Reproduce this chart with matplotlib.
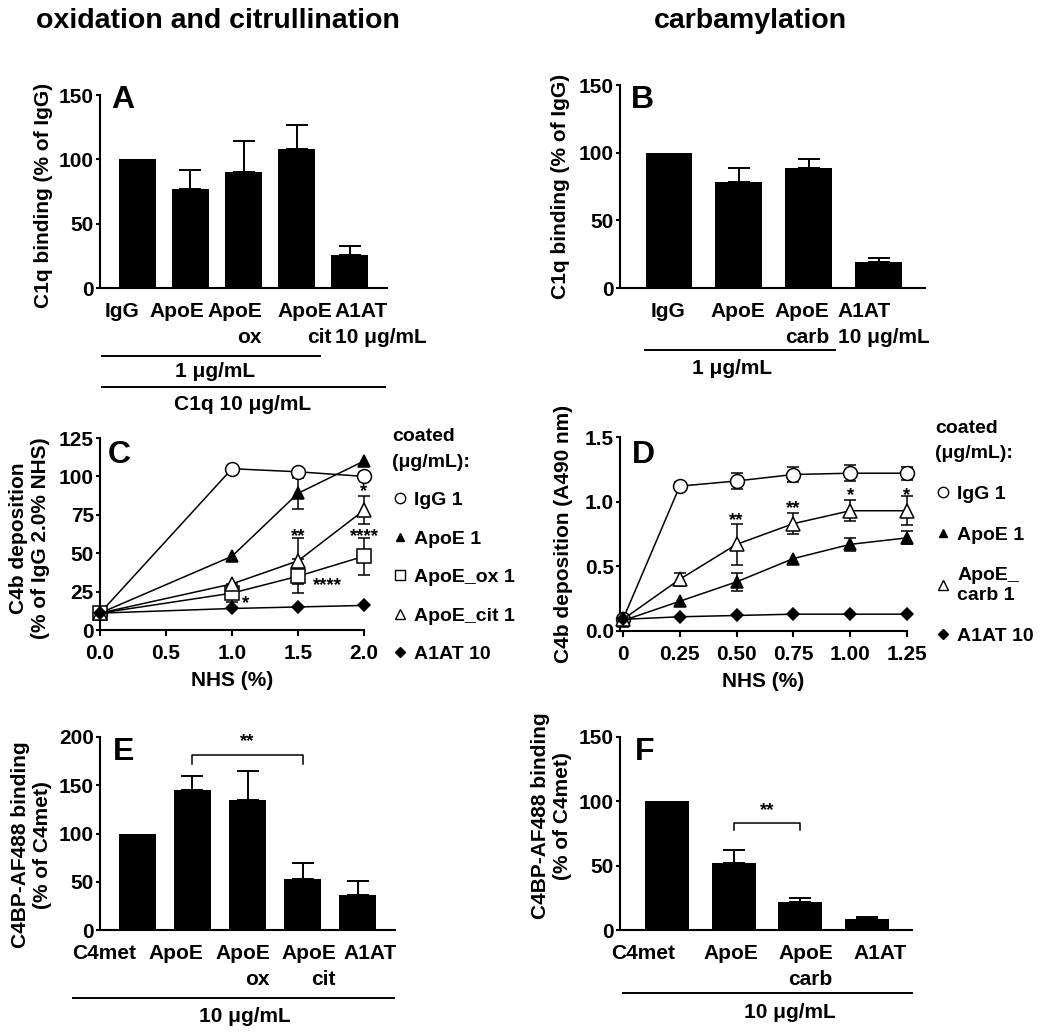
import numpy as np
import matplotlib
matplotlib.use("Agg")
import matplotlib.pyplot as plt
from matplotlib.lines import Line2D
from matplotlib.transforms import ScaledTranslation

plt.rcParams['font.family'] = ['Liberation Sans', 'DejaVu Sans']
plt.rcParams['font.weight'] = 'bold'
plt.rcParams['axes.labelweight'] = 'bold'

W, H = 1050, 1033

# ---- data ----
A_labels = ['IgG', 'ApoE', 'ApoE\nox', 'ApoE\ncit', 'A1AT\n10 μg/mL']
A_vals = [100, 77, 90, 108, 26]
A_err = [0, 15, 24, 19, 7]

B_labels = ['IgG', 'ApoE', 'ApoE\ncarb', 'A1AT\n10 μg/mL']
B_vals = [100, 78, 89, 19]
B_err = [0, 11, 6, 3]

C_x = [0, 1.0, 1.5, 2.0]
C_igg = [11, 105, 103, 100]
C_igg_err = [0, 0, 0, 0]
C_apoe = [11, 48, 89, 110]
C_apoe_err = [0, 0, 10, 0]
C_ox = [11, 24, 35, 48]
C_ox_err = [0, 6, 11, 12]
C_cit = [11, 30, 45, 78]
C_cit_err = [0, 0, 15, 9]
C_a1at = [11, 14, 15, 16]
C_a1at_err = [0, 0, 0, 0]

D_x = [0, 0.25, 0.5, 0.75, 1.0, 1.25]
D_igg = [0.09, 1.12, 1.16, 1.21, 1.22, 1.22]
D_igg_err = [0, 0.03, 0.06, 0.06, 0.06, 0.05]
D_apoe = [0.08, 0.23, 0.38, 0.56, 0.67, 0.72]
D_apoe_err = [0, 0, 0.07, 0, 0.05, 0.05]
D_carb = [0.09, 0.40, 0.67, 0.83, 0.93, 0.93]
D_carb_err = [0, 0.05, 0.16, 0.08, 0.08, 0.11]
D_a1at = [0.09, 0.11, 0.12, 0.13, 0.13, 0.13]
D_a1at_err = [0, 0, 0, 0, 0, 0]

E_labels = ['C4met', 'ApoE', 'ApoE\nox', 'ApoE\ncit', 'A1AT']
E_vals = [100, 145, 135, 53, 36]
E_err = [0, 15, 30, 16, 15]

F_labels = ['C4met', 'ApoE', 'ApoE\ncarb', 'A1AT']
F_vals = [100, 52, 22, 8.5]
F_err = [0, 10, 2.5, 1.5]

# significance marks: (x, y, text)
C_stars = [(1.1, 17, '*'), (1.5, 61, '**'), (1.72, 29, '****'),
           (2.0, 90, '*'), (2.0, 61, '****')]
D_stars = [(0.5, 0.85, '**'), (0.75, 0.95, '**'), (1.0, 1.05, '*'), (1.25, 1.05, '*')]

fig = plt.figure(figsize=(W / 100, H / 100), dpi=100)


def add_ax(x0, y0, x1, y1):
    return fig.add_axes([x0 / W, 1 - y1 / H, (x1 - x0) / W, (y1 - y0) / H])


def style(ax):
    for s in ['top', 'right']:
        ax.spines[s].set_visible(False)
    for s in ['left', 'bottom']:
        ax.spines[s].set_linewidth(1.5)
    ax.tick_params(axis='y', length=3, width=1.5, pad=1.5, labelsize=15)
    ax.tick_params(axis='x', length=4, width=1.5, pad=6, labelsize=15)


def hline(x0, x1, y):
    fig.add_artist(Line2D([x0 / W, x1 / W], [1 - y / H, 1 - y / H],
                          transform=fig.transFigure, color='k', lw=1.4))


def ftext(x, y, s, size=15):
    fig.text(x / W, 1 - y / H, s, ha='center', va='center', fontsize=size, fontweight='bold')


def bar_panel(ax, labels, vals, errs, width, ylim, yticks, offsets, letter, letter_pos):
    x = np.arange(len(vals))
    ax.bar(x, vals, width=width, color='k')
    xe = [i for i in x if errs[i] > 0]
    ax.errorbar(xe, [vals[i] for i in xe], yerr=[[0] * len(xe), [errs[i] for i in xe]],
                fmt='none', ecolor='k', elinewidth=1.4, capsize=8, capthick=1.4)
    ax.set_ylim(*ylim)
    ax.set_yticks(yticks)
    ax.set_xticks(x)
    ax.set_xticklabels(labels, va='top')
    ax.tick_params(axis='x', length=0, pad=10)
    for lab, (dx, ha) in zip(ax.get_xticklabels(), offsets):
        lab.set_ha(ha)
        lab.set_linespacing(1.45)
        lab.set_multialignment('left' if ha == 'left' else 'right')
        lab.set_transform(lab.get_transform() + ScaledTranslation(dx * 0.72 / 72, 0, fig.dpi_scale_trans))
    ax.text(letter_pos[0], letter_pos[1], letter, transform=ax.transAxes,
            fontsize=23, fontweight='bold', va='top', ha='left')


# ---- titles ----
ftext(218, 21, 'oxidation and citrullination', size=20.5)
ftext(750, 21, 'carbamylation', size=20.5)

# ---- A ----
axA = add_ax(100, 95, 387, 288)
style(axA)
axA.set_xlim(-0.7, 4.7)
bar_panel(axA, A_labels, A_vals, A_err, 0.7, (0, 150), [0, 50, 100, 150],
          [(-15, 'center'), (-13, 'center'), (-9, 'center'), (8, 'center'), (-15, 'left')],
          'A', (0.04, 1.05))
axA.set_ylabel('C1q binding (% of IgG)', fontsize=15)
axA.yaxis.set_label_coords(-0.164, 0.48)
hline(102, 320, 356)
ftext(215, 371, '1 μg/mL')
hline(102, 385, 387)
ftext(243, 404, 'C1q 10 μg/mL')

# ---- B ----
axB = add_ax(620, 85, 925, 288)
style(axB)
axB.set_xlim(-0.7, 3.66)
bar_panel(axB, B_labels, B_vals, B_err, 0.67, (0, 150), [0, 50, 100, 150],
          [(-1, 'center'), (-1, 'center'), (-7, 'center'), (-41, 'left')],
          'B', (0.035, 1.0))
axB.set_ylabel('C1q binding (% of IgG)', fontsize=15)
axB.yaxis.set_label_coords(-0.164, 0.5)
hline(645, 835, 350)
ftext(732, 368, '1 μg/mL')


# ---- line panels ----
def series(ax, x, y, err, marker, mfc, ms):
    xe = [x[i] for i in range(len(x)) if err[i] > 0]
    ye = [y[i] for i in range(len(x)) if err[i] > 0]
    ee = [e for e in err if e > 0]
    if ee:
        ax.errorbar(xe, ye, yerr=ee, fmt='none', ecolor='k', elinewidth=1.1,
                    capsize=4.5, capthick=1.1, zorder=2, clip_on=False)
    ax.plot(x, y, color='k', lw=1.1, marker=marker, ms=ms, mfc=mfc, mec='k',
            mew=1.1, zorder=3, clip_on=False)
    return Line2D([], [], ls='none', marker=marker, ms=ms * 0.75, mfc=mfc, mec='k', mew=1.0)


def legend(ax, handles, labels, anchor, spacing):
    leg = ax.legend(handles, labels, loc='upper left', bbox_to_anchor=anchor,
                    frameon=False, title='coated\n(μg/mL):', alignment='left',
                    handlelength=0.8, handletextpad=0.35, labelspacing=spacing,
                    borderaxespad=0, borderpad=0,
                    prop=dict(size=14, weight='bold'),
                    title_fontproperties=dict(size=14, weight='bold'))
    leg.get_title().set_linespacing(1.65)
    for t in leg.get_texts():
        t.set_linespacing(1.2)


axC = add_ax(100, 438, 364, 630)
style(axC)
hC = [series(axC, C_x, C_igg, C_igg_err, 'o', 'white', 10),
      series(axC, C_x, C_apoe, C_apoe_err, '^', 'black', 8),
      series(axC, C_x, C_ox, C_ox_err, 's', 'white', 10),
      series(axC, C_x, C_cit, C_cit_err, '^', 'white', 10),
      series(axC, C_x, C_a1at, C_a1at_err, 'D', 'black', 6.5)]
axC.set_xlim(0, 2.0)
axC.set_ylim(0, 125)
axC.set_xticks([0, 0.5, 1.0, 1.5, 2.0])
axC.set_xticklabels(['0.0', '0.5', '1.0', '1.5', '2.0'])
axC.set_yticks([0, 25, 50, 75, 100, 125])
for x, y, s in C_stars:
    axC.text(x, y, s, ha='center', va='center', fontsize=13.5, fontweight='bold')
axC.set_xlabel('NHS (%)', fontsize=15, labelpad=6)
axC.set_ylabel('C4b deposition\n(% of IgG 2.0% NHS)', fontsize=15, linespacing=1.2)
axC.yaxis.set_label_coords(-0.19, 0.48)
axC.text(0.03, 0.99, 'C', transform=axC.transAxes, fontsize=23, fontweight='bold', va='top')
legend(axC, hC, ['IgG 1', 'ApoE 1', 'ApoE_ox 1', 'ApoE_cit 1', 'A1AT 10'], (1.106, 1.05), 1.07)

axD = add_ax(620, 437, 907, 631)
style(axD)
hD = [series(axD, D_x, D_igg, D_igg_err, 'o', 'white', 10),
      series(axD, D_x, D_apoe, D_apoe_err, '^', 'black', 8),
      series(axD, D_x, D_carb, D_carb_err, '^', 'white', 10),
      series(axD, D_x, D_a1at, D_a1at_err, 'D', 'black', 6.5)]
axD.set_xlim(-0.013, 1.25)
axD.set_ylim(0, 1.5)
axD.set_xticks(D_x)
axD.set_xticklabels(['0', '0.25', '0.50', '0.75', '1.00', '1.25'])
axD.set_yticks([0, 0.5, 1.0, 1.5])
axD.set_yticklabels(['0.0', '0.5', '1.0', '1.5'])
for x, y, s in D_stars:
    axD.text(x, y, s, ha='center', va='center', fontsize=13.5, fontweight='bold')
axD.set_xlabel('NHS (%)', fontsize=15, labelpad=6)
axD.set_ylabel('C4b deposition (A490 nm)', fontsize=15)
axD.yaxis.set_label_coords(-0.164, 0.5)
axD.text(0.04, 0.985, 'D', transform=axD.transAxes, fontsize=23, fontweight='bold', va='top')
legend(axD, hD, ['IgG 1', 'ApoE 1', 'ApoE_\ncarb 1', 'A1AT 10'], (1.097, 1.09), 1.2)

# ---- E ----
axE = add_ax(100, 737, 395, 930)
style(axE)
axE.set_xlim(-0.67, 4.67)
bar_panel(axE, E_labels, E_vals, E_err, 0.67, (0, 200), [0, 50, 100, 150, 200],
          [(-33, 'center'), (-16, 'center'), (-5, 'center'), (6, 'center'), (12, 'center')],
          'E', (0.045, 1.0))
axE.set_ylabel('C4BP-AF488 binding\n(% of C4met)', fontsize=15, linespacing=1.2)
axE.yaxis.set_label_coords(-0.163, 0.44)
axE.plot([1, 1, 3, 3], [172, 181, 181, 172], color='k', lw=1.1, clip_on=False)
axE.text(2, 186, '**', ha='center', va='bottom', fontsize=13.5, fontweight='bold')
hline(73, 394, 998)
ftext(245, 1016, '10 μg/mL')

# ---- F ----
axF = add_ax(620, 737, 912, 930)
style(axF)
axF.set_xlim(-0.7, 3.67)
bar_panel(axF, F_labels, F_vals, F_err, 0.66, (0, 150), [0, 50, 100, 150],
          [(-24, 'center'), (-3, 'center'), (5, 'center'), (13, 'center')],
          'F', (0.05, 1.0))
axF.set_ylabel('C4BP-AF488 binding\n(% of C4met)', fontsize=15, linespacing=1.2)
axF.yaxis.set_label_coords(-0.164, 0.59)
axF.plot([1, 1, 2, 2], [78, 83, 83, 78], color='k', lw=1.1, clip_on=False)
axF.text(1.5, 86, '**', ha='center', va='bottom', fontsize=13.5, fontweight='bold')
hline(623, 912, 993)
ftext(790, 1012, '10 μg/mL')

fig.savefig('out.png', dpi=100)
